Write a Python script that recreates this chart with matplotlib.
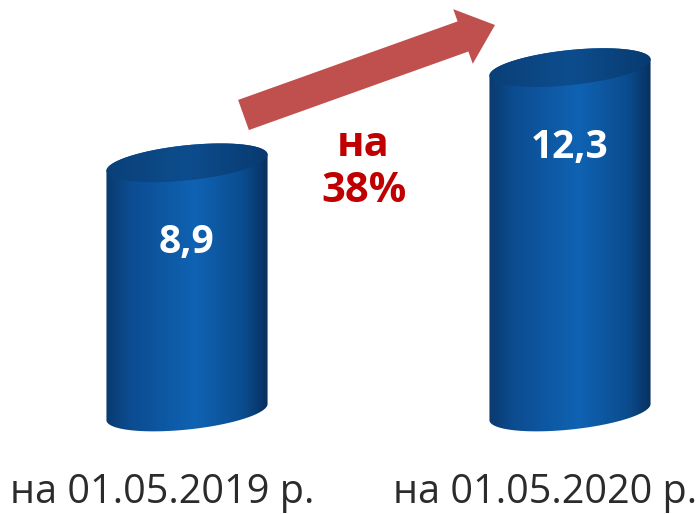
import numpy as np
import matplotlib
matplotlib.use("Agg")
import matplotlib.pyplot as plt
from matplotlib.patches import Polygon, FancyArrow
from matplotlib.colors import LinearSegmentedColormap

# ---- data ----
categories = ["на 01.05.2019 р.", "на 01.05.2020 р."]
values = [8.9, 12.3]
value_labels = ["8,9", "12,3"]
growth_label = ["на", "38%"]

# ---- layout ----
W, H = 697, 514
XS = 383.0     # pixels per x unit
YS = 28.0      # pixels per value unit
X0_PX = 187.0  # pixel x of first category
BASE_PX = 412.0  # pixel y of zero line

fig = plt.figure(figsize=(W / 100, H / 100), dpi=100)
ax = fig.add_axes([0, 0, 1, 1])
ax.axis("off")

A_PX, B_PX, TH = 81.0, 17.5, np.radians(6)

cmap_body = LinearSegmentedColormap.from_list(
    "body", [(0.0, "#0a3a6e"), (0.15, "#0c4c91"), (0.55, "#0f63b3"),
             (0.85, "#0b4c8f"), (1.0, "#07305d")])
cmap_top = LinearSegmentedColormap.from_list(
    "top", [(0.0, "#0a4078"), (0.5, "#0d4d8e"), (1.0, "#083a70")])


def ell(cx, cy, t):
    X = A_PX * np.cos(t) * np.cos(TH) - B_PX * np.sin(t) * np.sin(TH)
    Y = A_PX * np.cos(t) * np.sin(TH) + B_PX * np.sin(t) * np.cos(TH)
    return cx + X / XS, cy + Y / YS


xs = np.arange(len(values))
half_w = A_PX / XS
for x, v, lab in zip(xs, values, value_labels):
    tb = np.linspace(np.pi, 2 * np.pi, 120)
    tt = np.linspace(0, np.pi, 120)
    bx, by = ell(x, 0.0, tb)
    tx, ty = ell(x, v, tt)
    body = Polygon(np.column_stack([np.r_[bx, tx], np.r_[by, ty]]),
                   closed=True, facecolor="none", edgecolor="none")
    ax.add_patch(body)
    grad = np.linspace(0, 1, 256).reshape(1, -1)
    im = ax.imshow(grad, extent=[x - half_w, x + half_w, -1.5, v + 1.5],
                   cmap=cmap_body, aspect="auto", zorder=2, interpolation="bilinear")
    im.set_clip_path(body)

    ta = np.linspace(0, 2 * np.pi, 240)
    ex, ey = ell(x, v, ta)
    top = Polygon(np.column_stack([ex, ey]), closed=True,
                  facecolor="none", edgecolor="none")
    ax.add_patch(top)
    im2 = ax.imshow(grad, extent=[x - half_w, x + half_w, v - 1.5, v + 1.5],
                    cmap=cmap_top, aspect="auto", zorder=3, interpolation="bilinear")
    im2.set_clip_path(top)

    ax.text(x, v - 80 / YS, lab, ha="center", va="center", color="white",
            fontsize=28, fontweight="bold", family=["Open Sans", "DejaVu Sans"], zorder=5)

for x, cat in zip(xs, categories):
    ax.text(x - 25 / XS, -(503 - BASE_PX) / YS, cat, ha="center", va="baseline",
            color="#2b2b2b", fontsize=28.5, family=["Open Sans", "DejaVu Sans"], zorder=5)

ax.set_xlim(-X0_PX / XS, (W - X0_PX) / XS)
ax.set_ylim(-(H - BASE_PX) / YS, BASE_PX / YS)

# ---- growth arrow and text (pixel overlay) ----
ov = fig.add_axes([0, 0, 1, 1])
ov.axis("off")
ov.set_xlim(0, W)
ov.set_ylim(H, 0)
ov.patch.set_alpha(0)
tail = (243.5, 115.0)
tip = (495.0, 25.0)
ov.add_patch(FancyArrow(tail[0], tail[1], tip[0] - tail[0], tip[1] - tail[1],
                        width=32, head_width=58, head_length=34,
                        length_includes_head=True, color="#c0504d", lw=0))
ov.text(363, 146, growth_label[0], ha="center", va="center", color="#c00000",
        fontsize=30, fontweight="bold", family=["Open Sans", "DejaVu Sans"])
ov.text(364, 192, growth_label[1], ha="center", va="center", color="#c00000",
        fontsize=30, fontweight="bold", family=["Open Sans", "DejaVu Sans"])

fig.savefig("out.png", dpi=100)
